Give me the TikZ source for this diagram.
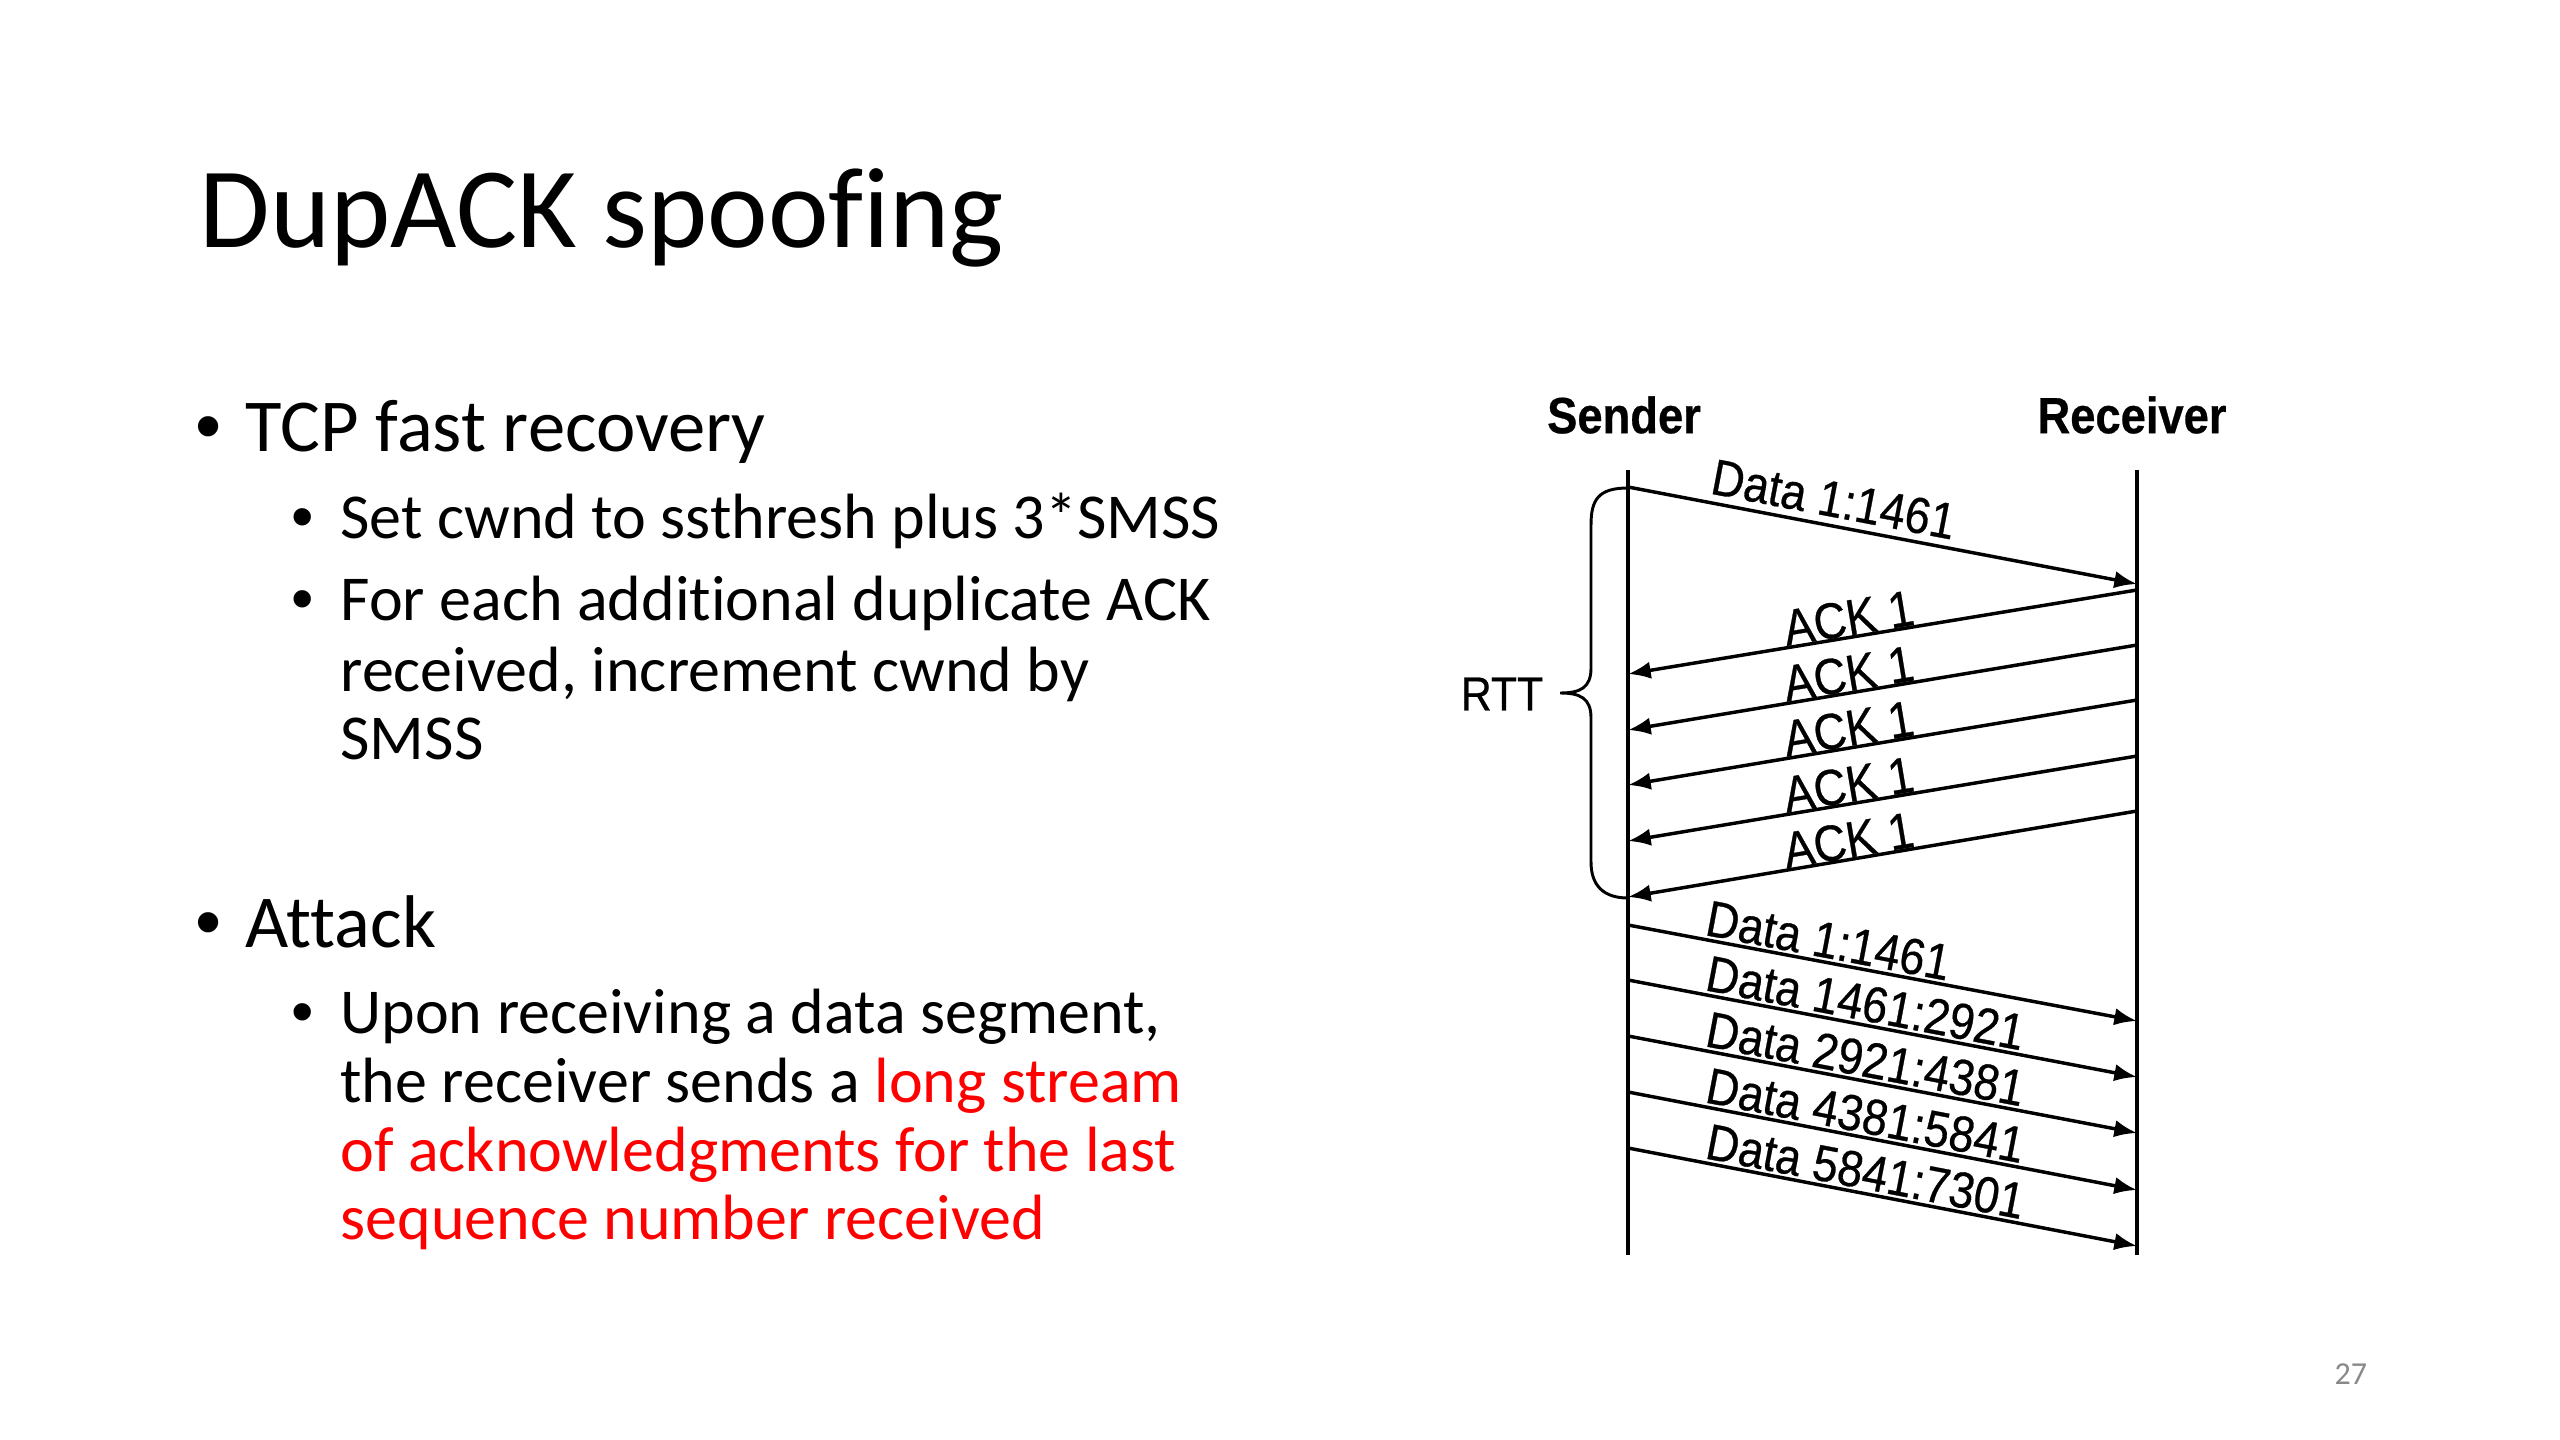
\documentclass[tikz,border=0pt]{standalone}
\usepackage{fontspec}
\setmainfont{Carlito}[Ligatures={NoCommon}]
\newfontfamily\diagfont{Liberation Sans}[FakeBold=0.6]
\newfontfamily\bulletfont{Liberation Sans}
\usetikzlibrary{arrows.meta}
\definecolor{pnum}{RGB}{137,137,137}
\definecolor{hl}{RGB}{255,0,0}
\newcommand{\tallify}[1]{\scalebox{1}[1.12]{#1}}
\tikzset{
  titletxt/.style={anchor=base west, inner sep=0pt, font=\fontsize{43}{52}\selectfont},
  lvlone/.style={anchor=base west, inner sep=0pt, font=\fontsize{28}{34}\selectfont},
  lvltwo/.style={anchor=base west, inner sep=0pt, font=\fontsize{24}{29}\selectfont},
  bulone/.style={anchor=base west, inner sep=0pt, font=\bulletfont\fontsize{28}{34}\selectfont},
  bultwo/.style={anchor=base west, inner sep=0pt, font=\bulletfont\fontsize{24}{29}\selectfont},
  lifeline/.style={line width=1.5pt},
  msg/.style={line width=1.3pt, -{Latex[length=8.5pt,width=6.5pt]}},
  lbl/.style={font=\diagfont\fontsize{17}{19}\selectfont, sloped, anchor=south west, inner sep=0.8pt},
  headtxt/.style={font=\diagfont\bfseries\fontsize{17}{20}\selectfont, inner sep=0pt},
}
\begin{document}
\begin{tikzpicture}[x=0.375pt, y=-0.375pt]
\useasboundingbox (0,0) rectangle (2560,1440);
\fill[white] (0,0) rectangle (2560,1440);

% ---- slide text ----
\node[titletxt] (title) at (199,248) {DupACK spoofing};

\node[bulone] (b1) at (195,452) {•};
\node[lvlone] (t1) at (245,452) {TCP fast recovery};
\node[bultwo] (b11) at (291,539) {•};
\node[lvltwo] (t11) at (340,539) {Set cwnd to ssthresh plus 3*SMSS};
\node[bultwo] (b12) at (291,620) {•};
\node[lvltwo] (t12a) at (340,620) {For each additional duplicate ACK};
\node[lvltwo] (t12b) at (340,691) {received, increment cwnd by};
\node[lvltwo] (t12c) at (340,759) {SMSS};

\node[bulone] (b2) at (195,947) {•};
\node[lvlone] (t2) at (245,947) {Attack};
\node[bultwo] (b21) at (291,1033) {•};
\node[lvltwo] (t21a) at (340,1033) {Upon receiving a data segment,};
\node[lvltwo] (t21b) at (340,1102) {the receiver sends a \textcolor{hl}{long stream}};
\node[lvltwo] (t21c) at (340,1171) {\textcolor{hl}{of acknowledgments for the last}};
\node[lvltwo] (t21d) at (340,1239) {\textcolor{hl}{sequence number received}};

\node[anchor=base west, inner sep=0pt, text=pnum, font=\fontsize{12}{14}\selectfont] (pg) at (2334,1384) {27};

% ---- diagram ----
\node[headtxt] (sender) at (1624,415) {\tallify{Sender}};
\node[headtxt] (receiver) at (2132,415) {\tallify{Receiver}};

\coordinate (stop) at (1628,470);
\coordinate (sbot) at (1628,1255);
\coordinate (rtop) at (2137,470);
\coordinate (rbot) at (2137,1255);
\draw[lifeline] (stop) -- (sbot);
\draw[lifeline] (rtop) -- (rbot);

% first data segment
\coordinate (d0s) at (1628,487);
\coordinate (d0r) at (2137,584);
\draw[msg] (d0s) -- (d0r) node[lbl, pos=0.14, inner sep=2.5pt] {\tallify{Data 1:1461}};

% duplicate ACKs
\foreach \i/\ry/\sy in {1/590/674, 2/645/730, 3/700/785, 4/756/841, 5/811/897} {
  \coordinate (a\i r) at (2137,\ry);
  \coordinate (a\i s) at (1628,\sy);
  \draw[msg] (a\i r) -- (a\i s);
  \path (a\i s) -- (a\i r) node[lbl, pos=0.31, inner sep=0.3pt] {\tallify{ACK 1}};
}

% retransmission burst
\foreach \i/\sy/\ry/\txt in {1/925/1021/{Data 1:1461}, 2/980/1077/{Data 1461:2921}, 3/1036/1133/{Data 2921:4381}, 4/1092/1190/{Data 4381:5841}, 5/1148/1246/{Data 5841:7301}} {
  \coordinate (e\i s) at (1628,\sy);
  \coordinate (e\i r) at (2137,\ry);
  \draw[msg] (e\i s) -- (e\i r) node[lbl, pos=0.14] {\tallify{\txt}};
}

% RTT brace
\coordinate (btop) at (1628,488);
\coordinate (bbot) at (1628,898);
\coordinate (btip) at (1560,693);
\draw[line width=1.1pt] (btop) .. controls (1598,488) and (1591,500) .. (1591,525)
  -- (1591,668) .. controls (1591,688) and (1580,693) .. (btip)
  .. controls (1580,693) and (1591,698) .. (1591,718)
  -- (1591,862) .. controls (1591,885) and (1603,898) .. (bbot);
\node[font=\diagfont\fontsize{16}{18}\selectfont, inner sep=0pt] (rtt) at (1502,694) {\tallify{RTT}};
\end{tikzpicture}
\end{document}
